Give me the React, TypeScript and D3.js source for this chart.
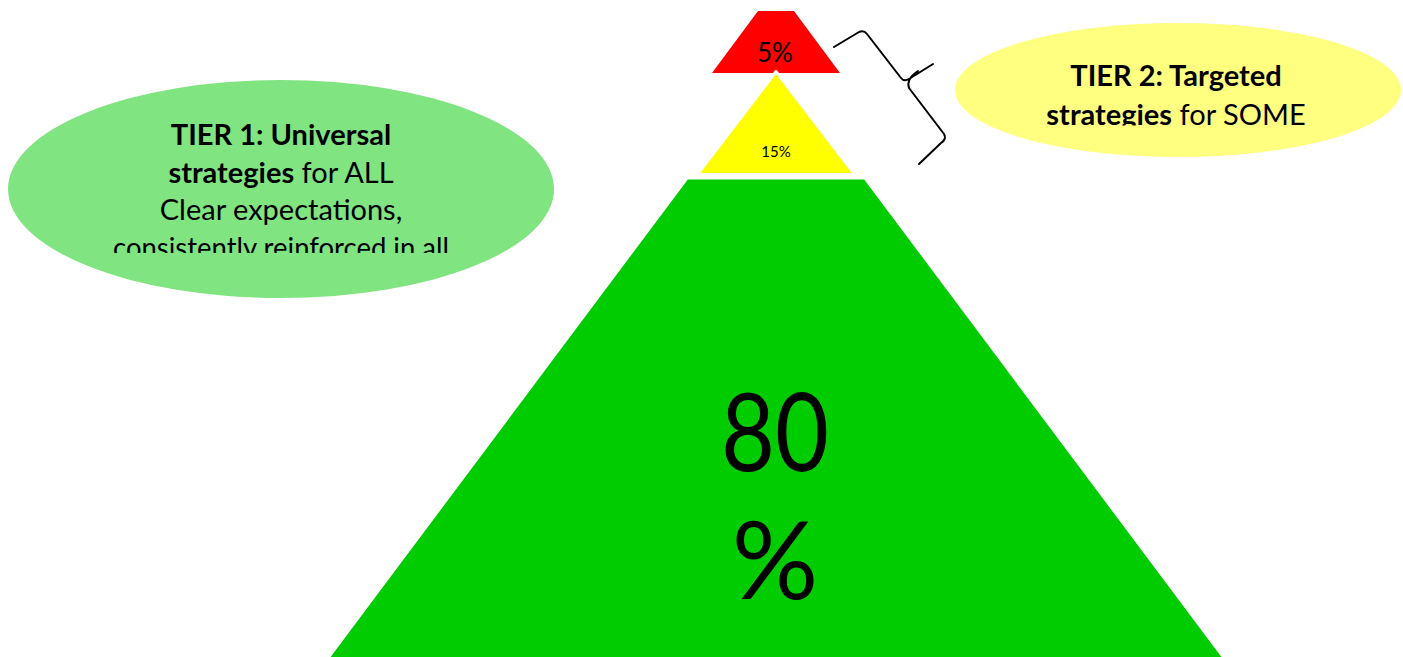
import React from "react";
import * as d3 from "d3";

// ---- Data ----
const tierLabels = ["5%", "15%", "80%"];
const tierValues = [5, 15, 80];
const tierColors = ["#FF0000", "#FFFF00", "#00CC00"];

const tier1Lines = [
  { bold: "TIER 1: Universal", normal: "" },
  { bold: "strategies", normal: " for ALL" },
  { bold: "", normal: "Clear expectations," },
  { bold: "", normal: "consistently reinforced in all" },
];
const tier1LineWidths = [0, 0, 0, 336];
const tier2Lines = [
  { bold: "TIER 2: Targeted", normal: "" },
  { bold: "strategies", normal: " for SOME" },
];

// ---- Layout ----
const W = 1403;
const H = 657;
const CX = 776;
// vertical extents per tier (top → bottom), half-width at top and side slope
const tierTop = [11, 71.5, 178];
const tierBottom = [73, 174.5, 720];
const tierTopHalf = [18, 0, 89];
const tierSlope = [0.742, 0.765, 0.748];

const FONT = "Lato, 'Open Sans', sans-serif";

export default function App() {
  const yScale = d3.scaleLinear().domain([0, H]).range([0, H]);
  const halfAt = (i: number, y: number) => tierTopHalf[i] + tierSlope[i] * (y - tierTop[i]);

  const shapes = tierValues.map((v, i) => {
    const t = yScale(tierTop[i]);
    const b = yScale(tierBottom[i]);
    const ht = halfAt(i, tierTop[i]);
    const hb = halfAt(i, tierBottom[i]);
    const pts: [number, number][] =
      ht === 0
        ? [[CX, t], [CX + hb, b], [CX - hb, b]]
        : [[CX - ht, t], [CX + ht, t], [CX + hb, b], [CX - hb, b]];
    const line = d3.line<[number, number]>().curve(d3.curveLinearClosed);
    return { d: line(pts) as string, color: tierColors[i], value: v };
  });

  const bracePath =
    "M834,47 L859,32 Q864,30 867,34 L901,78 Q904,82 909,79 L933,64 " +
    "M918,71 Q906,79 909,88 L944,134 Q947,139 941,143 L919,164";

  return (
    <svg
      width={W}
      height={H}
      style={{ position: "absolute", left: 0, top: 0, background: "#fff" }}
      fontFamily={FONT}
    >
      <defs>
        <clipPath id="clip1">
          <rect x={0} y={100} width={600} height={153} />
        </clipPath>
        <clipPath id="clip2">
          <rect x={940} y={40} width={463} height={85.5} />
        </clipPath>
      </defs>

      {/* pyramid: draw bottom first so upper outlines sit on top */}
      {[2, 0, 1].map((i) => (
        <path
          key={i}
          d={shapes[i].d}
          fill={shapes[i].color}
          stroke="#fff"
          strokeWidth={i === 0 ? 0 : 3}
          strokeLinejoin="round"
        />
      ))}

      {/* tier labels */}
      <text x={CX - 1} y={62} textAnchor="middle" fontSize={26} fill="#000">
        {tierLabels[0]}
      </text>
      <text x={CX} y={157} textAnchor="middle" fontSize={15} fill="#000">
        {tierLabels[1]}
      </text>
      <text x={CX - 1} y={471} textAnchor="middle" fontSize={108} fill="#000" textLength={108} lengthAdjust="spacingAndGlyphs">
        {tierLabels[2].slice(0, 2)}
      </text>
      <text x={CX - 1} y={599} textAnchor="middle" fontSize={108} fill="#000">
        {tierLabels[2].slice(2)}
      </text>

      {/* brace */}
      <path d={bracePath} fill="none" stroke="#000" strokeWidth={2} strokeLinejoin="round" strokeLinecap="round" />

      {/* Tier 1 ellipse */}
      <ellipse cx={281} cy={189} rx={273} ry={109} fill="#80E480" />
      <g clipPath="url(#clip1)">
        {tier1Lines.map((l, i) => (
          <text
            key={i}
            x={281}
            y={145 + i * 37.5}
            textAnchor="middle"
            fontSize={29}
            fill="#000"
            {...(tier1LineWidths[i] ? { textLength: tier1LineWidths[i], lengthAdjust: "spacingAndGlyphs" } : {})}
          >
            {l.bold && <tspan fontWeight="bold">{l.bold}</tspan>}
            {l.normal && <tspan>{l.normal}</tspan>}
          </text>
        ))}
      </g>

      {/* Tier 2 ellipse */}
      <ellipse cx={1178} cy={90} rx={223} ry={67} fill="#FFFF80" />
      <g clipPath="url(#clip2)">
        {tier2Lines.map((l, i) => (
          <text key={i} x={1176} y={86 + i * 39} textAnchor="middle" fontSize={29} fill="#000">
            {l.bold && <tspan fontWeight="bold">{l.bold}</tspan>}
            {l.normal && <tspan>{l.normal}</tspan>}
          </text>
        ))}
      </g>
    </svg>
  );
}
